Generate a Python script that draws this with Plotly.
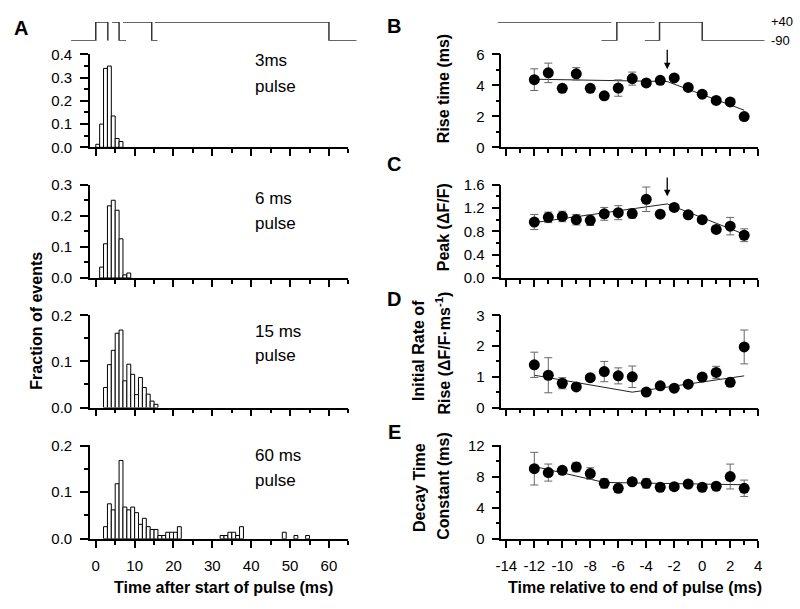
import plotly.graph_objects as go

W, H = 800, 609
FONT = "Liberation Sans"

# ---------------- data ----------------
bin_width = 1.0
h3_start = [0, 1, 2, 3, 4, 5, 6]
h3_frac = [0.013, 0.10, 0.34, 0.35, 0.135, 0.038, 0.025]
h6_start = [1, 2, 3, 4, 5, 6, 7, 8]
h6_frac = [0.035, 0.11, 0.232, 0.25, 0.218, 0.126, 0.01, 0.016]
h15_start = [2, 3, 4, 5, 6, 7, 8, 9, 10, 11, 12, 13, 14, 15]
h15_frac = [0.0435, 0.093, 0.124, 0.161, 0.168, 0.058, 0.094, 0.072, 0.028, 0.065,
            0.0435, 0.029, 0.014, 0.007]
h60_start = [2, 3, 4, 5, 6, 7, 8, 9, 10, 11, 12, 13, 14, 15, 16, 17, 18, 19, 20, 21,
             32, 33, 34, 35, 36, 37, 48, 51, 54]
h60_frac = [0.026, 0.075, 0.062, 0.118, 0.168, 0.068, 0.062, 0.068, 0.056, 0.031,
            0.044, 0.026, 0.02, 0.02, 0.007, 0.007, 0.014, 0.014, 0.014, 0.026,
            0.007, 0.007, 0.014, 0.014, 0.007, 0.026, 0.014, 0.007, 0.007]
pulse_names = ["3ms", "6 ms", "15 ms", "60 ms"]

t_rel = [-12, -11, -10, -9, -8, -7, -6, -5, -4, -3, -2, -1, 0, 1, 2, 3]
t_rel_ticks = [-14, -12, -10, -8, -6, -4, -2, 0, 2, 4]
rise = [4.37, 4.81, 3.81, 4.75, 3.81, 3.33, 3.83, 4.44, 4.16, 4.33, 4.48, 3.87, 3.43, 3.03, 2.93, 1.99]
rise_err = [0.7, 0.63, 0.15, 0.4, 0.15, 0.12, 0.53, 0.42, 0.2, 0.15, 0.12, 0.1, 0.12, 0.12, 0.2, 0.12]
peak = [0.96, 1.04, 1.055, 1.0, 0.99, 1.1, 1.12, 1.105, 1.35, 1.094, 1.21, 1.083, 1.0, 0.833, 0.889, 0.733]
peak_err = [0.13, 0.09, 0.09, 0.09, 0.09, 0.11, 0.12, 0.08, 0.21, 0.05, 0.05, 0.05, 0.05, 0.05, 0.15, 0.11]
rate = [1.39, 1.05, 0.79, 0.67, 0.97, 1.17, 1.03, 1.0, 0.505, 0.705, 0.63, 0.76, 0.99, 1.14, 0.82, 1.97]
rate_err = [0.41, 0.57, 0.18, 0.08, 0.1, 0.33, 0.26, 0.35, 0.08, 0.08, 0.08, 0.08, 0.1, 0.2, 0.12, 0.55]
decay = [9.02, 8.52, 8.81, 9.23, 8.39, 7.13, 6.5, 7.34, 7.13, 6.63, 6.71, 7.05, 6.63, 6.76, 8.01, 6.5]
decay_err = [2.1, 1.1, 0.3, 0.6, 0.75, 0.6, 0.5, 0.4, 0.6, 0.3, 0.3, 0.3, 0.3, 0.3, 1.6, 1.05]

rise_fit_x = [-12, -2.5, 3]
rise_fit_y = [4.4, 4.25, 2.4]
peak_fit_x = [-12, -2.5, 3]
peak_fit_y = [0.95, 1.27, 0.75]
rate_fit_x = [-12, -5, 3]
rate_fit_y = [1.05, 0.5, 1.03]
decay_fit_x = [-12, -7, 3]
decay_fit_y = [9.3, 7.25, 6.95]
arrow_t = -2.5

# voltage protocol sketches (mV)
V_HOLD, V_TEST = -90, 40
pulseA = [
    ([-6.35, 0, 0, 3.1, 3.1], [V_HOLD, V_HOLD, V_TEST, V_TEST, V_HOLD]),
    ([4.2, 6, 6, 7.8], [V_TEST, V_TEST, V_HOLD, V_HOLD]),
    ([7.0, 14.4, 14.4, 15.9], [V_TEST, V_TEST, V_HOLD, V_HOLD]),
    ([15.2, 60, 60, 67.1], [V_TEST, V_TEST, V_HOLD, V_HOLD]),
]
pulseB = [
    ([-14.6, -6.5], [V_TEST, V_TEST]),
    ([-7.2, -6.1, -6.1, -3.4], [V_HOLD, V_HOLD, V_TEST, V_TEST]),
    ([-4.1, -3.05, -3.05, 0, 0, 4.45], [V_HOLD, V_HOLD, V_TEST, V_TEST, V_HOLD, V_HOLD]),
]

# ---------------- layout geometry (pixels) ----------------
def px(x):
    return x / W

def py(y):
    return 1 - y / H

rows = [(46.7, 142.3), (180.7, 276.7), (315, 410), (449, 545)]
L_dom, L_rng = (85, 346.7), (-1.5, 65)
R_dom, R_rng = (501.7, 761.7), (-14.35, 4)

fig = go.Figure()

hists = [(h3_start, h3_frac), (h6_start, h6_frac), (h15_start, h15_frac), (h60_start, h60_frac)]
for i, (st, fr) in enumerate(hists):
    k = i + 1
    fig.add_trace(go.Bar(x=[s + bin_width / 2 for s in st], y=fr, width=bin_width,
                         marker=dict(color="white", line=dict(color="black", width=1)),
                         xaxis=f"x{k}", yaxis=f"y{k}", showlegend=False))

series = [(rise, rise_err, rise_fit_x, rise_fit_y), (peak, peak_err, peak_fit_x, peak_fit_y),
          (rate, rate_err, rate_fit_x, rate_fit_y), (decay, decay_err, decay_fit_x, decay_fit_y)]
for i, (v, e, fx, fy) in enumerate(series):
    k = i + 5
    fig.add_trace(go.Scatter(x=fx, y=fy, mode="lines", line=dict(color="#222", width=1),
                             xaxis=f"x{k}", yaxis=f"y{k}", showlegend=False))
    fig.add_trace(go.Scatter(x=t_rel, y=v, mode="markers",
                             marker=dict(size=11, color="black"),
                             error_y=dict(type="data", array=e, color="#666", thickness=1, width=4),
                             xaxis=f"x{k}", yaxis=f"y{k}", showlegend=False))

for xs, vs in pulseA:
    fig.add_trace(go.Scatter(x=xs, y=vs, mode="lines", line=dict(color="#333", width=1.5),
                             xaxis="x9", yaxis="y9", showlegend=False))
for xs, vs in pulseB:
    fig.add_trace(go.Scatter(x=xs, y=vs, mode="lines", line=dict(color="#333", width=1.5),
                             xaxis="x10", yaxis="y10", showlegend=False))

axis_common = dict(showline=True, linecolor="black", linewidth=1.5, ticks="outside",
                   tickcolor="black", tickwidth=1.5, showgrid=False, zeroline=False,
                   tickfont=dict(family=FONT, size=15, color="black"))

lay = {}
yspec_L = [(0.4, 0.1, 0.05), (0.3, 0.1, 0.05), (0.2, 0.1, 0.05), (0.2, 0.1, 0.05)]
yspec_R = [(6, 2, 1, None), (1.6, 0.4, 0.2, ".1f"), (3, 1, 0.5, None), (12, 4, 2, None)]
for i in range(4):
    top, bot = rows[i]
    ydom = [py(bot), py(top)]
    last = (i == 3)
    k = i + 1
    lay[f"xaxis{k}"] = dict(axis_common, domain=[px(L_dom[0]), px(L_dom[1])], range=list(L_rng),
                            anchor=f"y{k}", tick0=0, dtick=10, ticklen=7, ticklabelstandoff=5,
                            minor=dict(ticks="outside", dtick=5, tick0=0, ticklen=4,
                                       tickwidth=1.5, tickcolor="black", showgrid=False),
                            showticklabels=last)
    ymax, dt, mdt = yspec_L[i]
    lay[f"yaxis{k}"] = dict(axis_common, domain=ydom, range=[0, ymax * 1.0005], anchor=f"x{k}",
                            tick0=0, dtick=dt, ticklen=8, tickformat=".1f", ticklabelstandoff=5,
                            minor=dict(ticks="outside", dtick=mdt, tick0=0, ticklen=4,
                                       tickwidth=1.5, tickcolor="black", showgrid=False))
    k = i + 5
    lay[f"xaxis{k}"] = dict(axis_common, domain=[px(R_dom[0]), px(R_dom[1])], range=list(R_rng),
                            anchor=f"y{k}", tickmode="array", tickvals=t_rel_ticks,
                            ticktext=[str(v) for v in t_rel_ticks], ticklen=7, ticklabelstandoff=5,
                            minor=dict(ticks="outside", dtick=1, tick0=0, ticklen=4,
                                       tickwidth=1.5, tickcolor="black", showgrid=False),
                            showticklabels=last)
    ymax, dt, mdt, fmt = yspec_R[i]
    yd = dict(axis_common, domain=ydom, range=[0, ymax * 1.0005], anchor=f"x{k}",
              tick0=0, dtick=dt, ticklen=8, ticklabelstandoff=4,
              minor=dict(ticks="outside", dtick=mdt, tick0=0, ticklen=4,
                         tickwidth=1.5, tickcolor="black", showgrid=False))
    if fmt:
        yd["tickformat"] = fmt
    lay[f"yaxis{k}"] = yd

def sketch_axis(dom_px, ref_dom, ref_rng):
    scale = (ref_dom[1] - ref_dom[0]) / (ref_rng[1] - ref_rng[0])
    lo = ref_rng[0] + (dom_px[0] - ref_dom[0]) / scale
    hi = ref_rng[0] + (dom_px[1] - ref_dom[0]) / scale
    return dict(domain=[px(dom_px[0]), px(dom_px[1])], range=[lo, hi], visible=False)

sk_ydom = [py(32.7), py(13.3)]
lay["xaxis9"] = dict(sketch_axis((60, 360), L_dom, L_rng), anchor="y9")
lay["yaxis9"] = dict(domain=sk_ydom, range=[V_HOLD, V_TEST], visible=False, anchor="x9")
lay["xaxis10"] = dict(sketch_axis((490, 800), R_dom, R_rng), anchor="y10")
lay["yaxis10"] = dict(domain=sk_ydom, range=[V_HOLD, V_TEST], visible=False, anchor="x10")

ann = []
def text(x, y, s, size=15, bold=False, angle=0, xanchor="center", yanchor="middle"):
    ann.append(dict(x=px(x), y=py(y), xref="paper", yref="paper", text=(f"<b>{s}</b>" if bold else s),
                    showarrow=False, textangle=angle, xanchor=xanchor, yanchor=yanchor,
                    font=dict(family=FONT, size=size, color="black")))

for s, (x, y) in zip("ABCDE", [(15, 20), (393, 18), (393, 159), (393, 298), (393, 435)]):
    text(x, y, s, size=20, bold=True)

name_pos = [(53, 80), (195, 221), (332, 356), (459, 485)]
for nm, (y1, y2) in zip(pulse_names, name_pos):
    text(250, y1, nm, size=17, xanchor="left")
    text(250, y2, "pulse", size=17, xanchor="left")

TS = 16
text(30, 321, "Fraction of events", size=TS, bold=True, angle=-90)
text(220, 595, "Time after start of pulse (ms)", size=TS, bold=True)
text(637, 595, "Time relative to end of pulse (ms)", size=TS, bold=True)
text(443, 82, "Rise time (ms)", size=TS, bold=True, angle=-90)
text(443, 224, "Peak (ΔF/F)", size=TS, bold=True, angle=-90)
text(417, 351, "Initial Rate of", size=TS, bold=True, angle=-90)
text(443, 354, "Rise (ΔF/F·ms<sup>-1</sup>)", size=TS, bold=True, angle=-90)
text(418, 492, "Decay Time", size=TS, bold=True, angle=-90)
text(443, 490, "Constant (ms)", size=TS, bold=True, angle=-90)

for v, lab in [(V_TEST, "+40"), (V_HOLD, "-90")]:
    ann.append(dict(x=4.75, y=v, xref="x10", yref="y10", text=lab, showarrow=False,
                    xanchor="left", yanchor="middle", font=dict(family=FONT, size=13, color="black")))

for xr, yr, tip, tail in [("x5", "y5", 5.05, 6.4), ("x6", "y6", 1.40, 1.75)]:
    ann.append(dict(x=arrow_t, y=tip, xref=xr, yref=yr, ax=arrow_t, ay=tail, axref=xr, ayref=yr,
                    text="", showarrow=True, arrowhead=2, arrowsize=1, arrowwidth=1.3,
                    arrowcolor="black"))

fig.update_layout(width=W, height=H, margin=dict(l=0, r=0, t=0, b=0),
                  paper_bgcolor="white", plot_bgcolor="white", annotations=ann,
                  showlegend=False, **lay)
fig.write_html("out.html", config={"displayModeBar": False},
               post_script="document.body.style.margin='0';document.body.style.padding='0';"
                           "document.documentElement.style.overflow='hidden';"
                           "document.body.style.overflow='hidden';")
